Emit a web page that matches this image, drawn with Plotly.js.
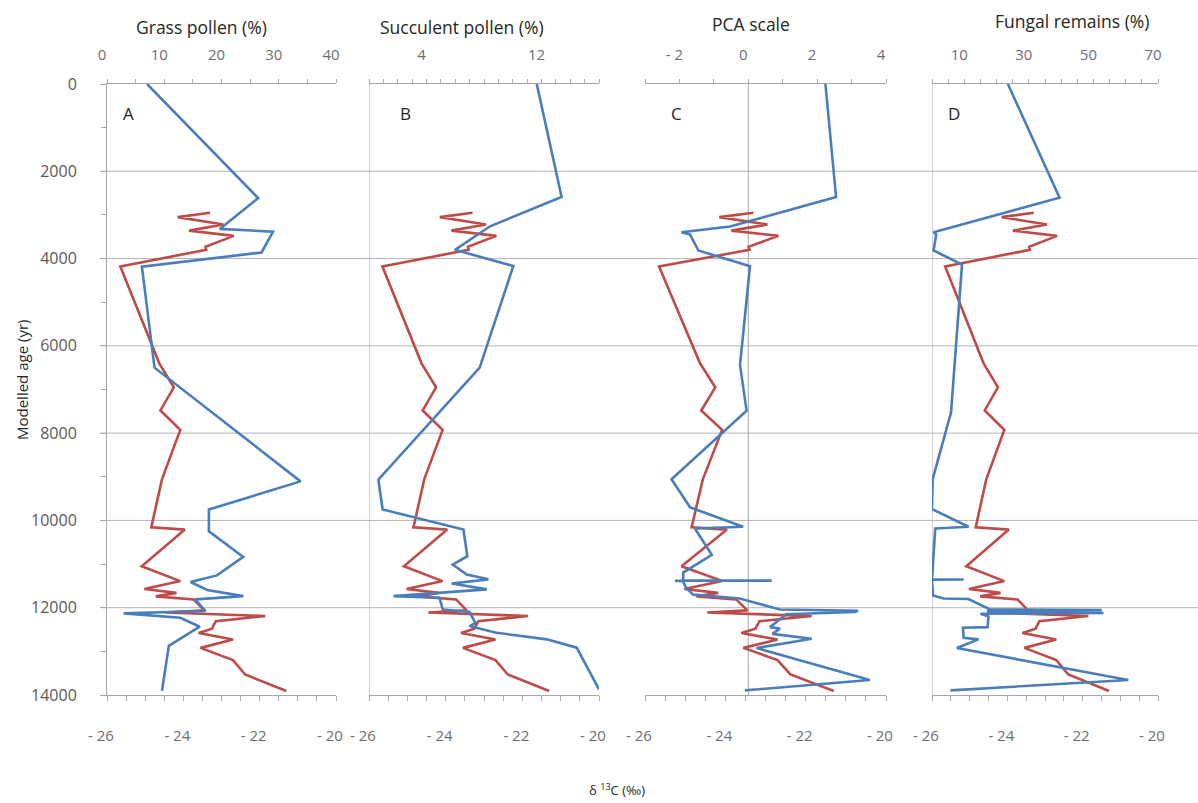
<!DOCTYPE html>
<html><head><meta charset="utf-8">
<script src="https://cdn.plot.ly/plotly-3.0.1.min.js"></script>
<style>html,body{margin:0;padding:0;background:#fff}</style>
</head><body><div id="chart" style="width:1198px;height:803px"></div>
<script>
// δ13C record (red, same in all panels)
const d13cAge = [2950,3050,3220,3360,3480,3730,3800,4180,6400,6950,7480,7925,9060,10160,10210,11050,11390,11570,11660,11740,11810,12060,12110,12190,12310,12480,12580,12730,12920,13200,13530,13910];
const d13cVal = [-23.3,-24.15,-22.95,-23.85,-22.68,-23.42,-23.4,-25.65,-24.63,-24.25,-24.6,-24.08,-24.56,-24.84,-23.96,-25.09,-24.08,-25.02,-24.18,-24.72,-23.73,-23.45,-24.45,-21.85,-23.15,-23.25,-23.6,-22.7,-23.55,-22.7,-22.38,-21.3];

// A: grass pollen (%)
const grassAge = [0,2615,3320,3385,3860,4185,6500,9105,9750,10250,10835,11260,11410,11595,11735,11810,12075,12130,12230,12435,12875,13905];
const grassPct = [7.0,26.4,19.7,29.0,27.0,6.1,8.3,33.8,17.8,17.8,23.8,19.2,14.6,17.5,23.8,15.4,17.2,2.9,12.8,16.2,10.8,9.6];

// B: succulent pollen (%)
const succAge = [0,2590,3260,3800,4170,6500,9065,9750,10210,10820,11010,11240,11350,11445,11580,11735,11770,12040,12100,12350,12420,12570,12725,12915,13870];
const succPct = [11.67,13.4,8.42,5.98,10.04,7.7,0.65,0.95,6.57,6.84,5.82,6.8,8.3,5.75,8.2,1.7,4.9,5.13,7.0,7.4,7.0,8.77,12.37,14.45,16.0];

// C: PCA scale
const pcaAge = [0,2590,3265,3395,3450,3815,4175,6435,7485,9055,9700,10145,10185,10790,11195,11370,11379,11381,11390,11550,11700,11790,12040,12070,12100,12150,12445,12480,12600,12710,12925,13655,13895];
const pcaVal = [2.24,2.55,-0.53,-1.94,-1.69,-1.45,0.05,-0.24,-0.05,-2.23,-1.69,-0.15,-1.55,-1.06,-1.89,-1.89,0.68,-2.13,-1.9,-1.8,-1.6,-0.25,0.92,3.19,3.1,1.1,0.63,0.92,0.7,1.84,0.24,3.53,-0.1];

// D: fungal remains (%)
const fungAge = [0,2605,3395,3450,3815,4135,7525,9055,9740,10145,10185,11350,11355,11360,11720,11790,11800,12040,12055,12080,12120,12140,12200,12445,12460,12690,12725,12925,13655,13895];
const fungPct = [23.5,39.5,0.5,1.3,0.5,9.3,5.9,0.2,0.0,11.3,1.0,0.0,9.8,0.0,0.3,3.6,11.3,18.0,52.6,17.0,53.1,15.0,17.5,17.2,9.6,9.8,14.4,7.7,60.8,5.7];

// tick labels
const ageTicks = [0,2000,4000,6000,8000,10000,12000,14000];
const ageTickText = ['0','2000','4000','6000','8000','10000','12000','14000'];
const d13cTicks = [-26,-24,-22,-20];
const d13cTickText = ['- 26','- 24','- 22','- 20'];
const grassTicks = [0,10,20,30,40];
const succTicks = [4,12];
const pcaTicks = [-2,0,2,4];
const pcaTickText = ['- 2','0','2','4'];
const fungTicks = [10,30,50,70];
const gridAges = [2000,4000,6000,8000,10000,12000];

const BLUE = '#4a7ebb', RED = '#be4b48';
const AX = '#a6a6a6', GRID = '#b5b5b5';
const FONT = 'Open Sans, Liberation Sans, sans-serif';
const TICKC = '#6e6e6e';

const W = 1198, H = 803;
const yDom = [1 - 695/H, 1 - 84/H];
const dom = {A:[107/W,336/W], B:[369/W,599/W], C:[645/W,886/W], D:[932/W,1158/W]};

function line(x, y, xa, color){
  return {x:x, y:y, xaxis:xa, yaxis:'y', type:'scatter', mode:'lines',
    line:{color:color, width:2.6}, hoverinfo:'skip', showlegend:false};
}
const traces = [
  line(grassPct, grassAge, 'x2', BLUE),
  line(d13cVal, d13cAge, 'x', RED),
  line(succPct, succAge, 'x4', BLUE),
  line(d13cVal, d13cAge, 'x3', RED),
  line(pcaVal, pcaAge, 'x6', BLUE),
  line(d13cVal, d13cAge, 'x5', RED),
  line(fungPct, fungAge, 'x8', BLUE),
  line(d13cVal, d13cAge, 'x7', RED)
];

function bottomAxis(d){
  return {domain:d, anchor:'y', side:'bottom', range:[-26,-20],
    tickmode:'array', tickvals:d13cTicks, ticktext:d13cTickText,
    ticks:'outside', ticklen:5, tickcolor:AX, showline:true, linecolor:AX, linewidth:1,
    showgrid:false, zeroline:false, ticklabelstandoff:22, ticklabelshift:-6,
    minor:{dtick:0.5, tick0:-26, ticks:'outside', ticklen:5, tickcolor:AX, showgrid:false},
    tickfont:{family:FONT, size:15, color:TICKC}, fixedrange:true};
}
function topAxis(d, over, range, tv, tt, mdt){
  const a = {domain:d, anchor:'y', side:'top', overlaying:over, range:range,
    tickmode:'array', tickvals:tv,
    ticks:'outside', ticklen:4, tickcolor:AX, showline:true, linecolor:AX, linewidth:1,
    showgrid:false, zeroline:false, ticklabelstandoff:13, ticklabelshift:-5,
    minor:{dtick:mdt, tick0:range[0], ticks:'outside', ticklen:4, tickcolor:AX, showgrid:false},
    tickfont:{family:FONT, size:15, color:TICKC}, fixedrange:true};
  if (tt) a.ticktext = tt;
  return a;
}

const shapes = [];
gridAges.forEach(a => shapes.push({type:'line', xref:'paper', yref:'y', x0:101/W, x1:1, y0:a, y1:a,
  line:{color:GRID, width:1}, layer:'below'}));
shapes.push({type:'line', xref:'x3', yref:'y', x0:-26, x1:-26, y0:0, y1:14000, line:{color:AX, width:1}, layer:'below'});
shapes.push({type:'line', xref:'x6', yref:'y', x0:0, x1:0, y0:0, y1:14000, line:{color:AX, width:1}, layer:'below'});
shapes.push({type:'line', xref:'x8', yref:'y', x0:0, x1:0, y0:0, y1:14000, line:{color:AX, width:1}, layer:'below'});

function ann(text, xpx, ypx, size, extra){
  return Object.assign({text:text, x:xpx/W, y:1-ypx/H, xref:'paper', yref:'paper',
    showarrow:false, xanchor:'center', yanchor:'middle',
    font:{family:FONT, size:size, color:'#262626'}}, extra||{});
}
const annotations = [
  ann('Grass pollen (%)', 201, 27, 17.5),
  ann('Succulent pollen (%)', 462, 27, 17.5),
  ann('PCA scale', 751, 24, 17.5),
  ann('Fungal remains (%)', 1072, 21, 17.5),
  ann('A', 128, 113, 17),
  ann('B', 405, 113, 17),
  ann('C', 676, 113, 17),
  ann('D', 954, 113, 17),
  ann('Modelled age (yr)', 22, 380, 15, {textangle:-90}),
  ann('δ <sup>13</sup>C (‰)', 617, 789, 13)
];

const layout = {
  width:W, height:H, margin:{l:0,r:0,t:0,b:0},
  paper_bgcolor:'#fff', plot_bgcolor:'rgba(0,0,0,0)', showlegend:false,
  font:{family:FONT},
  yaxis:{domain:yDom, anchor:'x', range:[14000,0], tickmode:'array', tickvals:ageTicks, ticktext:ageTickText,
    ticks:'outside', ticklen:6, tickcolor:AX, showline:true, linecolor:AX, linewidth:1,
    showgrid:false, zeroline:false, ticklabelstandoff:20,
    minor:{dtick:1000, tick0:0, ticks:'outside', ticklen:5, tickcolor:AX, showgrid:false},
    tickfont:{family:FONT, size:16, color:'#595959'}, fixedrange:true},
  xaxis: bottomAxis(dom.A),
  xaxis2: topAxis(dom.A, 'x', [0,40], grassTicks, null, 5),
  xaxis3: bottomAxis(dom.B),
  xaxis4: topAxis(dom.B, 'x3', [0,16], succTicks, null, 1),
  xaxis5: bottomAxis(dom.C),
  xaxis6: topAxis(dom.C, 'x5', [-3,4], pcaTicks, pcaTickText, 1),
  xaxis7: bottomAxis(dom.D),
  xaxis8: topAxis(dom.D, 'x7', [0,70], fungTicks, null, 5),
  shapes:shapes, annotations:annotations
};

Plotly.newPlot('chart', traces, layout, {displayModeBar:false, staticPlot:true});
</script></body></html>
